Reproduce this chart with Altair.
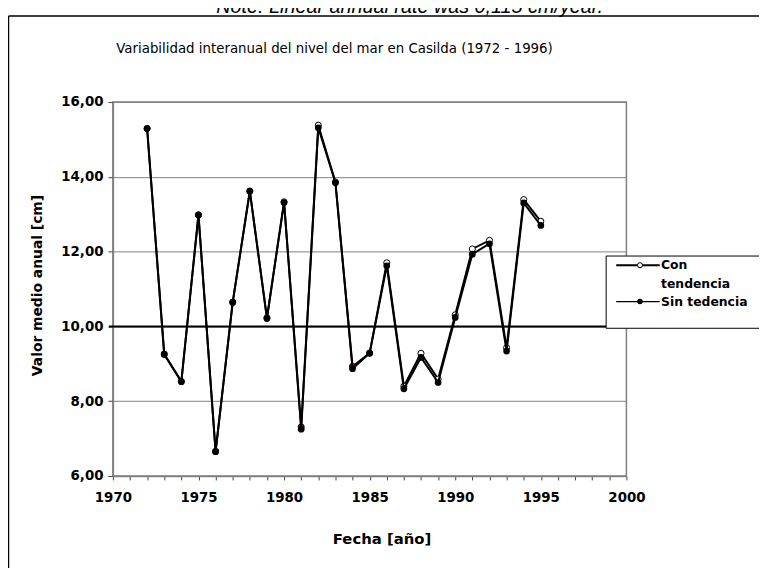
import altair as alt
import pandas as pd

# ---- data ----
years = list(range(1972, 1996))
sin_tendencia = [15.29, 9.25, 8.52, 12.98, 6.65, 10.64, 13.61, 10.21, 13.31, 7.25,
                 15.31, 13.84, 8.87, 9.28, 11.62, 8.33, 9.17, 8.50, 10.24, 11.93,
                 12.21, 9.34, 13.30, 12.70]
con_tendencia = [15.29, 9.26, 8.53, 12.98, 6.66, 10.65, 13.62, 10.23, 13.33, 7.31,
                 15.38, 13.86, 8.93, 9.29, 11.70, 8.40, 9.28, 8.59, 10.31, 12.07,
                 12.30, 9.43, 13.39, 12.81]
reference_level = [10]
y_ticks = [6, 8, 10, 12, 14, 16]
x_ticks = list(range(1970, 2001))
title_text = "Variabilidad interanual del nivel del mar en Casilda (1972 - 1996)"
note_text = "Note: Linear annual rate  was 0,115 cm/year."
legend_labels = [["Con", "tendencia"], ["Sin tedencia"]]
x_title = "Fecha [año]"
y_title = "Valor medio anual [cm]"

df = pd.DataFrame({"year": years, "sin": sin_tendencia, "con": con_tendencia})

W, H = 519, 378
FONT = "DejaVu Sans"

xs = alt.Scale(domain=[1970, 2000], nice=False, zero=False)
ys = alt.Scale(domain=[6, 16], nice=False, zero=False)

x_axis = alt.Axis(
    values=x_ticks,
    labelExpr="datum.value % 5 == 0 ? '' + datum.value : ''",
    tickSize=4, tickColor="#444444", tickWidth=1,
    domainColor="#808080", domainWidth=1.5,
    grid=False, labelFont=FONT, labelFontSize=13.5, labelFontWeight="bold",
    labelColor="black", labelPadding=11, labelOverlap=False, labelFlush=False,
    titleFont=FONT, titleFontSize=15, titleFontWeight="bold",
    titleColor="black", titleX=W / 2 + 12, titleY=63, titleBaseline="middle",
)
y_axis = alt.Axis(
    values=y_ticks,
    labelExpr="replace(format(datum.value, '.2f'), '.', ',')",
    tickSize=5, tickColor="#444444", tickWidth=1,
    domainColor="#808080", domainWidth=1.5,
    grid=True, gridColor="#808080", gridWidth=1,
    labelFont=FONT, labelFontSize=13.5, labelFontWeight="bold", labelColor="black",
    labelPadding=5,
    titleFont=FONT, titleFontSize=14,
    titleFontWeight="bold", titleColor="black", titleAngle=270,
    titleX=-76, titleY=H / 2 - 4, titleBaseline="middle", titleAlign="center",
)


def X(field):
    return alt.X(field, scale=xs, axis=x_axis, title=x_title)


def Y(field):
    return alt.Y(field, scale=ys, axis=y_axis, title=y_title)


base = alt.Chart(df)

line_con = base.mark_line(color="black", strokeWidth=2).encode(
    x=X("year:Q"), y=Y("con:Q"))
pts_con = base.mark_point(shape="circle", filled=True, size=38, stroke="black",
                          strokeWidth=1, opacity=1).encode(
    x=X("year:Q"), y=Y("con:Q"),
    fill=alt.condition("datum.year == 1981 || datum.year == 1984",
                       alt.value("#e00000"), alt.value("white")),
)
line_sin = base.mark_line(color="black", strokeWidth=2).encode(
    x=X("year:Q"), y=Y("sin:Q"))
pts_sin = base.mark_circle(size=46, color="black", opacity=1).encode(
    x=X("year:Q"), y=Y("sin:Q"))

ref_rule = alt.Chart(pd.DataFrame({"v": reference_level})).mark_rule(
    color="black", strokeWidth=2).encode(
    y=Y("v:Q"), x=alt.value(-4), x2=alt.value(W))

one = pd.DataFrame({"a": [0]})

# chart-area border (left and top visible)
border_left = alt.Chart(one).mark_rule(color="black", strokeWidth=1.5).encode(
    x=alt.value(-105.5), y=alt.value(-87), y2=alt.value(H + 150))
border_top = alt.Chart(one).mark_rule(color="black", strokeWidth=1.5).encode(
    x=alt.value(-105.5), x2=alt.value(W + 200), y=alt.value(-87))

title_mark = alt.Chart(pd.DataFrame({"t": [title_text]})).mark_text(
    font=FONT, fontSize=13.5, color="black", align="center", baseline="middle").encode(
    text="t:N", x=alt.value(224), y=alt.value(-53))

note_mark = alt.Chart(pd.DataFrame({"t": [note_text]})).mark_text(
    font="Liberation Sans", fontSize=20, fontStyle="italic", color="black",
    align="center", baseline="alphabetic").encode(
    text="t:N", x=alt.value(300), y=alt.value(-90))

# legend
LF = 12.5
leg_box = alt.Chart(one).mark_rect(fill="white", stroke="black", strokeWidth=1).encode(
    x=alt.value(498.5), x2=alt.value(W + 200), y=alt.value(155.7), y2=alt.value(228.7))
leg_line1 = alt.Chart(one).mark_rule(color="black", strokeWidth=2).encode(
    x=alt.value(508.7), x2=alt.value(552.7), y=alt.value(165))
leg_pt1 = alt.Chart(one).mark_point(shape="circle", filled=True, fill="white",
                                    stroke="black", strokeWidth=1, size=26, opacity=1).encode(
    x=alt.value(532.7), y=alt.value(165))
leg_line2 = alt.Chart(one).mark_rule(color="black", strokeWidth=1.2).encode(
    x=alt.value(508.7), x2=alt.value(552.7), y=alt.value(201.7))
leg_pt2 = alt.Chart(one).mark_circle(color="black", size=30, opacity=1).encode(
    x=alt.value(532.7), y=alt.value(201.7))
leg_t1 = alt.Chart(pd.DataFrame({"t": [legend_labels[0][0]]})).mark_text(
    font=FONT, fontSize=LF, fontWeight="bold", color="black", align="left",
    baseline="middle").encode(text="t:N", x=alt.value(554), y=alt.value(165))
leg_t1b = alt.Chart(pd.DataFrame({"t": [legend_labels[0][1]]})).mark_text(
    font=FONT, fontSize=LF, fontWeight="bold", color="black", align="left",
    baseline="middle").encode(text="t:N", x=alt.value(554), y=alt.value(184))
leg_t2 = alt.Chart(pd.DataFrame({"t": [legend_labels[1][0]]})).mark_text(
    font=FONT, fontSize=LF, fontWeight="bold", color="black", align="left",
    baseline="middle").encode(text="t:N", x=alt.value(554), y=alt.value(201.7))

chart = alt.layer(
    line_con, ref_rule, pts_con, line_sin, pts_sin,
    border_left, border_top, title_mark, note_mark,
    leg_box, leg_line1, leg_pt1, leg_line2, leg_pt2, leg_t1, leg_t1b, leg_t2,
).properties(
    width=W, height=H,
    autosize=alt.AutoSizeParams(type="none"),
    padding={"left": 106, "top": 92, "right": 134, "bottom": 90},
    background="white",
).configure_view(stroke="#808080", strokeWidth=1.5)

chart.save("out.html", embed_options={"renderer": "svg", "actions": False})
